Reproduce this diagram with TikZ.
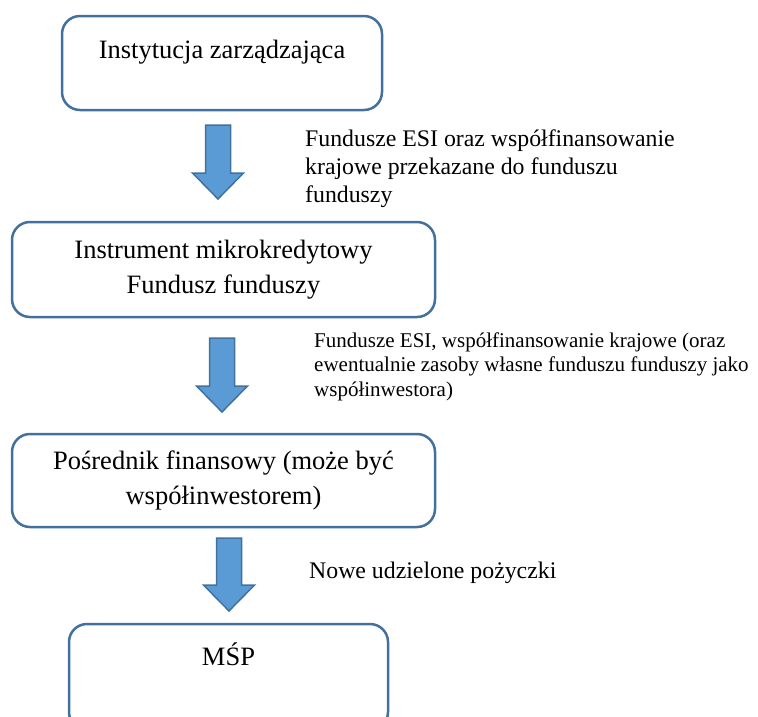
\documentclass[tikz,border=0pt]{standalone}
\usepackage{fontspec}
\setmainfont{Liberation Serif}
\definecolor{edgeblue}{HTML}{41719C}
\definecolor{fillblue}{HTML}{5B9BD5}

\tikzset{
  stage/.style={draw=edgeblue, line width=2.5pt, rounded corners=18pt,
    inner sep=0pt, align=center, font=\fontsize{26.5}{35}\selectfont},
  note/.style={inner sep=0pt, align=left},
  bigarrow/.style={draw=edgeblue, line width=1.5pt, fill=fillblue, line join=miter},
}
% block arrow: centre x, top y, tip y
\newcommand{\flowarrow}[3]{%
  \draw[bigarrow] (#1-12.5,#2) -- (#1+12.5,#2) -- (#1+12.5,#3-26)
    -- (#1+25.5,#3-26) -- (#1,#3) -- (#1-25.5,#3-26) -- (#1-12.5,#3-26) -- cycle;}

\begin{document}
\begin{tikzpicture}[x=1pt,y=-1pt]
  \useasboundingbox (0,0) rectangle (758,716);

  \node[stage, minimum width=320pt, minimum height=94pt,
    text height=18pt, text depth=28pt] (inst) at (222,63) {Instytucja zarządzająca};
  \node[stage, minimum width=423pt, minimum height=95pt] (fund) at (223.5,269.5)
    {Instrument mikrokredytowy\\Fundusz funduszy};
  \node[stage, minimum width=423pt, minimum height=93pt] (posr) at (223.5,480.5)
    {Pośrednik finansowy (może być\\współinwestorem)};
  \node[stage, minimum width=319pt, minimum height=106pt,
    text height=18pt, text depth=42pt] (msp) at (228.5,677) {MŚP};

  \flowarrow{218}{125}{199}
  \flowarrow{222}{338}{412}
  \flowarrow{229}{538}{611}

  \node[note, anchor=north west, font=\fontsize{23.8}{28}\selectfont] (esi1) at (305,129.5)
    {Fundusze ESI oraz współfinansowanie\\krajowe przekazane do funduszu\\funduszy};
  \node[note, anchor=north west, font=\fontsize{21}{24.5}\selectfont] (esi2) at (314,332.5)
    {Fundusze ESI, współfinansowanie krajowe (oraz\\ewentualnie zasoby własne funduszu funduszy jako\\współinwestora)};
  \node[note, anchor=base west, font=\fontsize{23.8}{28}\selectfont] (loans) at (309,578)
    {Nowe udzielone pożyczki};
\end{tikzpicture}
\end{document}
